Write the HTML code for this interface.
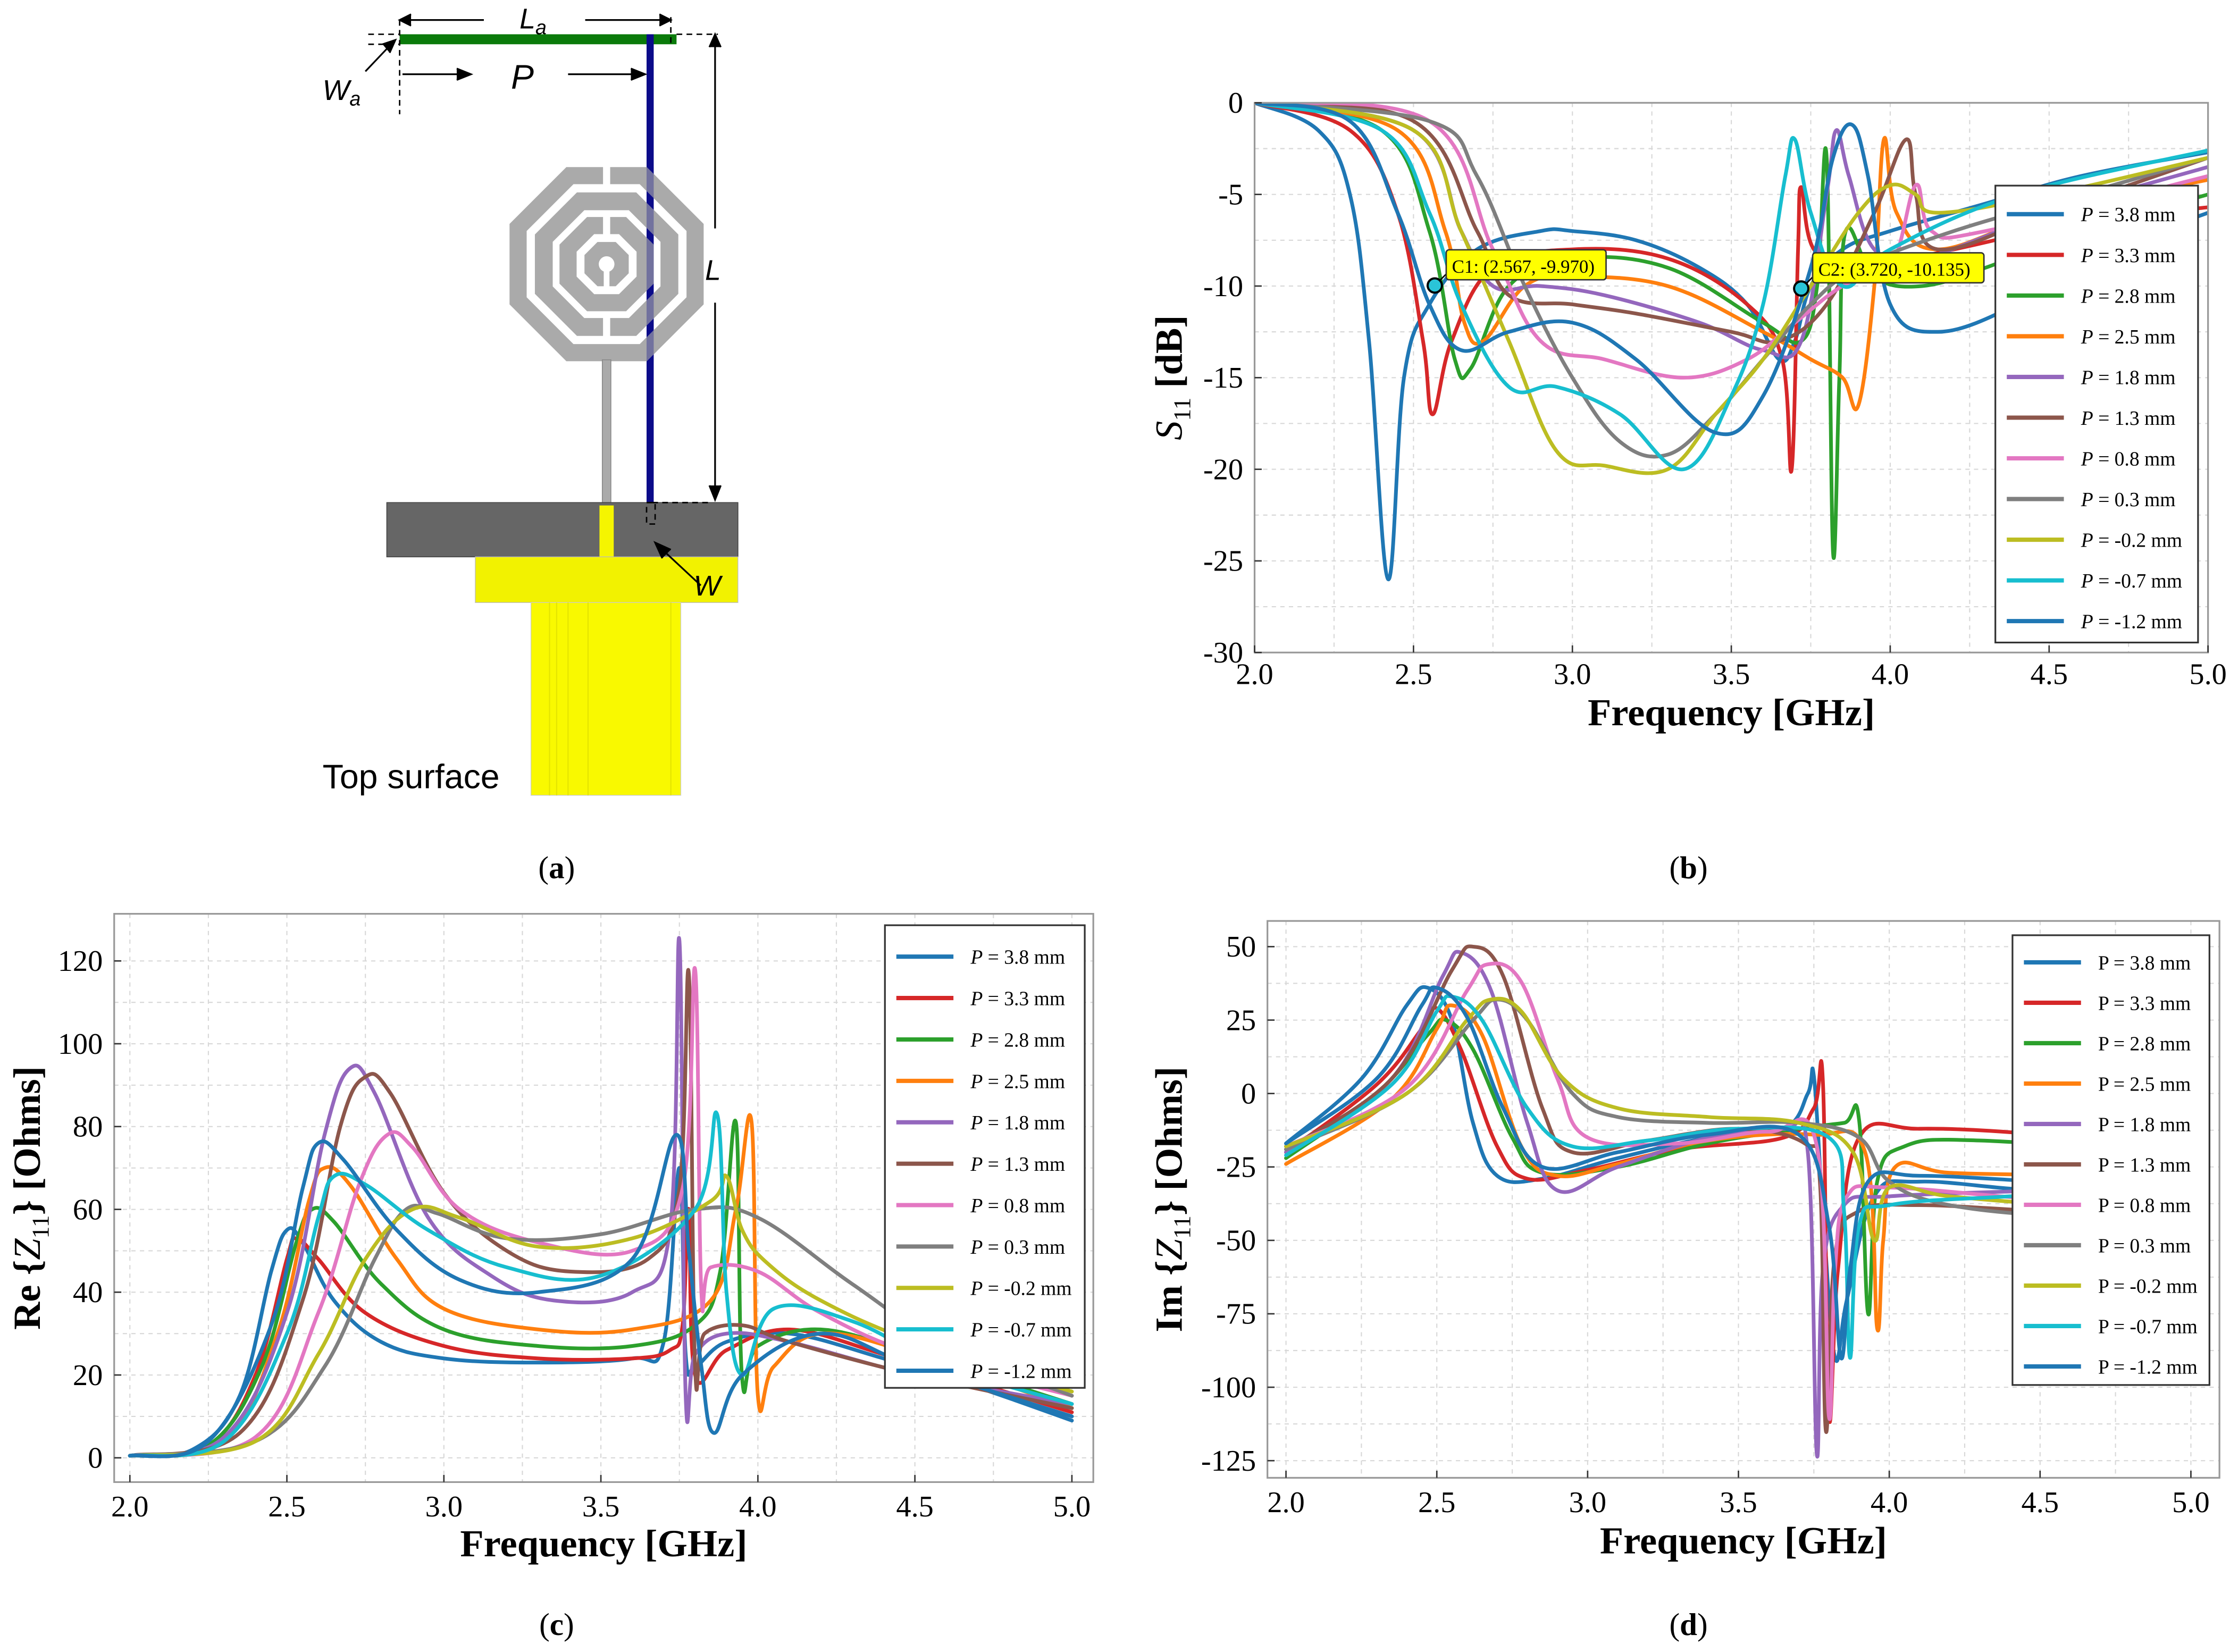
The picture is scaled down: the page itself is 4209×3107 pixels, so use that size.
<!DOCTYPE html>
<html><head><meta charset="utf-8"><style>
html,body{margin:0;padding:0;background:#fff;}
svg{display:block;}
</style></head><body>
<svg id="fig" xmlns="http://www.w3.org/2000/svg" width="4209" height="3107" viewBox="0 0 1568 1157" preserveAspectRatio="none" font-family="Liberation Serif, serif">
<rect x="0" y="0" width="1568" height="1157" fill="#fff"/>
<g id="drawing">
  <rect x="280" y="24" width="194" height="7" fill="#0a7a0a"/>
  <rect x="453" y="24" width="5" height="328" fill="#0b0b8a"/>
  <g fill="none" stroke="#aaaaaa" stroke-linejoin="miter">
    <polygon points="399.3,123 450.7,123 487,159.3 487,210.7 450.7,247 399.3,247 363,210.7 363,159.3" stroke-width="12"/>
    <polygon points="406.8,141 443.2,141 469,166.8 469,203.2 443.2,229 406.8,229 381,203.2 381,166.8" stroke-width="12.5"/>
    <polygon points="413.8,158 436.2,158 452,173.8 452,196.2 436.2,212 413.8,212 398,196.2 398,173.8" stroke-width="12"/>
    <polygon points="418.6,169.5 431.4,169.5 440.5,178.6 440.5,191.4 431.4,200.5 418.6,200.5 409.5,191.4 409.5,178.6" fill="#aaaaaa" stroke="none"/>
  </g>
  <rect x="422.5" y="115" width="5" height="15" fill="#fff"/>
  <rect x="422.5" y="151" width="5" height="14" fill="#fff"/>
  <rect x="422.5" y="222" width="5" height="14" fill="#fff"/>
  <circle cx="425" cy="185" r="5.5" fill="#fff"/>
  <rect x="423" y="185" width="4" height="16" fill="#fff"/>
  <rect x="453" y="117" width="5" height="136" fill="#0b0b8a" opacity="0.35"/>
  <rect x="422" y="252" width="6" height="100" fill="#aaaaaa" stroke="#888" stroke-width="0.6"/>
  <rect x="271" y="352" width="246" height="38" fill="#666" stroke="#444" stroke-width="0.6"/>
  <rect x="420" y="354" width="10" height="36" fill="#f5f500"/>
  <rect x="333" y="390" width="184" height="32" fill="#f2f200" stroke="#bbb" stroke-width="0.5"/>
  <rect x="372" y="422" width="105" height="135" fill="#f9f900" stroke="#ccc" stroke-width="0.5"/>
  <g stroke="#e4e400" stroke-width="0.8"><line x1="385" y1="422" x2="385" y2="557"/><line x1="390" y1="422" x2="390" y2="557"/><line x1="398" y1="422" x2="398" y2="557"/><line x1="412" y1="422" x2="412" y2="557"/><line x1="470" y1="422" x2="470" y2="557"/></g>
  <g stroke="#000" stroke-width="1.2" fill="none">
    <line x1="280" y1="14" x2="339" y2="14"/><line x1="410" y1="14" x2="470" y2="14"/>
    <path d="M288,10 L280,14 L288,18" fill="#000"/><path d="M462,10 L470,14 L462,18" fill="#000"/>
    <line x1="282" y1="52" x2="328" y2="52"/><path d="M320,48 L330,52 L320,56" fill="#000"/>
    <line x1="398" y1="52" x2="450" y2="52"/><path d="M442,48 L452,52 L442,56" fill="#000"/>
    <line x1="501" y1="32" x2="501" y2="160"/><line x1="501" y1="212" x2="501" y2="346"/>
    <path d="M497,33 L501,24 L505,33" fill="#000"/><path d="M497,340 L501,350 L505,340" fill="#000"/>
    <line x1="256" y1="50" x2="275" y2="30"/><path d="M268,31 L277,28 L273,37" fill="#000"/>
    <line x1="491" y1="410" x2="462" y2="383"/><path d="M464,391 L459,380 L470,385" fill="#000"/>
    <g stroke-dasharray="4,3" stroke-width="1">
      <line x1="280" y1="14" x2="280" y2="80"/><line x1="470" y1="12" x2="470" y2="30"/>
      <line x1="258" y1="24" x2="280" y2="24"/><line x1="258" y1="31" x2="280" y2="31"/>
      <line x1="474" y1="24" x2="503" y2="24"/><line x1="457" y1="352" x2="497" y2="352"/>
      <rect x="453" y="352" width="6" height="15"/>
    </g>
  </g>
  <g font-family="Liberation Sans, sans-serif" font-style="italic" fill="#000">
    <text x="364" y="20" font-size="20">L<tspan font-size="14" dy="4">a</tspan></text>
    <text x="358" y="62" font-size="24">P</text>
    <text x="226" y="70" font-size="20">W<tspan font-size="14" dy="4">a</tspan></text>
    <text x="494" y="196" font-size="20">L</text>
    <text x="486" y="417" font-size="20">W</text>
  </g>
  <text x="226" y="552" font-family="Liberation Sans, sans-serif" font-size="24" fill="#000">Top surface</text>
</g>
<g font-size="22" fill="#000">
  <text x="390" y="615" text-anchor="middle">(<tspan font-weight="bold">a</tspan>)</text>
  <text x="1183" y="615" text-anchor="middle">(<tspan font-weight="bold">b</tspan>)</text>
  <text x="390" y="1145" text-anchor="middle">(<tspan font-weight="bold">c</tspan>)</text>
  <text x="1183" y="1145" text-anchor="middle">(<tspan font-weight="bold">d</tspan>)</text>
</g>
<g id="chartB"></g>
<g id="chartC"></g>
<g id="chartD"></g>
</svg>
<script>
var colors = ["#1f77b4","#d62728","#2ca02c","#ff7f0e","#9467bd","#8c564b","#e377c2","#7f7f7f","#bcbd22","#17becf","#1f77b4"];
var pValues = ["3.8","3.3","2.8","2.5","1.8","1.3","0.8","0.3","-0.2","-0.7","-1.2"];
var freqTicks = [2.0,2.5,3.0,3.5,4.0,4.5,5.0];
var s11Ticks = [0,-5,-10,-15,-20,-25,-30];
var reTicks = [0,20,40,60,80,100,120];
var imTicks = [50,25,0,-25,-50,-75,-100,-125];

var s11Freq = [
 [2.0,2.2,2.3,2.36,2.42,2.47,2.55,2.7,2.9,3.0,3.2,3.4,3.55,3.65,3.7,3.75,3.85,4.0,4.3,4.6,5.0],
 [2.0,2.3,2.45,2.53,2.56,2.62,2.75,3.0,3.3,3.55,3.66,3.69,3.71,3.72,3.76,3.9,4.2,4.6,5.0],
 [2.0,2.4,2.55,2.63,2.68,2.8,3.0,3.3,3.6,3.72,3.77,3.8,3.82,3.84,3.86,3.95,4.1,4.3,4.6,5.0],
 [2.0,2.45,2.6,2.66,2.72,2.85,3.0,3.3,3.6,3.75,3.85,3.9,3.95,3.98,4.02,4.15,4.5,5.0],
 [2.0,2.5,2.65,2.75,2.9,3.1,3.4,3.6,3.72,3.8,3.83,3.87,3.95,4.1,4.5,5.0],
 [2.0,2.5,2.7,2.8,3.0,3.2,3.5,3.65,3.8,3.95,4.05,4.08,4.15,4.5,5.0],
 [2.0,2.55,2.75,2.9,3.1,3.35,3.55,3.7,3.85,4.0,4.08,4.13,4.3,5.0],
 [2.0,2.55,2.7,2.85,3.0,3.15,3.3,3.45,3.6,3.75,3.9,4.2,4.6,5.0],
 [2.0,2.5,2.65,2.8,2.95,3.1,3.3,3.45,3.6,3.75,3.9,4.0,4.08,4.15,4.5,5.0],
 [2.0,2.4,2.55,2.65,2.8,2.95,3.15,3.35,3.5,3.6,3.67,3.7,3.75,3.85,4.0,4.4,5.0],
 [2.0,2.3,2.45,2.55,2.65,2.8,3.0,3.2,3.45,3.6,3.75,3.82,3.88,3.93,4.0,4.15,4.4,4.7,5.0]
];
var s11Val = [
 [0,-1.5,-5,-13,-26,-15,-11,-8,-7,-7,-7.5,-9,-11,-14,-13,-10,-8,-7,-5.5,-4,-2.7],
 [0,-1.5,-6,-13,-17,-13,-9,-8,-8.5,-11,-14,-20,-8,-4.6,-8,-9,-8,-6.5,-5.7],
 [0,-1.5,-7,-14,-14.5,-10,-8.5,-9,-12,-13,-10,-3,-24.5,-15,-7,-9.5,-10,-9,-7,-5],
 [0,-1.5,-7,-12,-13,-10,-9.5,-10,-12.5,-14,-15,-16.5,-10,-2,-6,-8,-6,-4.2],
 [0,-1.5,-7,-10,-10,-10.5,-12,-13.5,-13,-5,-1.5,-4,-8,-8.5,-6,-3.5],
 [0,-1,-7,-10.5,-11,-11.5,-12.5,-13,-11,-6,-2,-5,-8,-6,-3],
 [0,-1,-8,-13,-14,-15,-14,-12,-10,-9,-4.5,-7,-7,-4],
 [0,-1,-4,-10,-15,-18.5,-19.2,-17,-14,-11,-9,-7,-5,-3],
 [0,-1.5,-7,-13,-19,-19.8,-20,-17,-14,-10,-6,-4.5,-5,-6,-5,-3],
 [0,-1.5,-6,-11,-15.5,-15.5,-17,-20,-16,-11,-4,-2,-6,-10,-8,-5,-2.6],
 [0,-1,-6,-11,-13.5,-12.5,-12,-14,-18,-16,-9,-3,-1.2,-4,-11,-12.5,-11,-8,-6]
];
var reFreq = [
 [2.0,2.2,2.35,2.45,2.5,2.55,2.65,2.8,3.0,3.3,3.6,3.7,3.75,3.77,3.8,3.9,4.1,4.4,4.7,5.0],
 [2.0,2.25,2.4,2.5,2.53,2.6,2.75,3.0,3.3,3.6,3.72,3.76,3.78,3.8,3.9,4.1,4.4,4.7,5.0],
 [2.0,2.25,2.42,2.53,2.58,2.65,2.8,3.0,3.3,3.6,3.8,3.88,3.93,3.95,4.0,4.2,4.5,5.0],
 [2.0,2.3,2.47,2.57,2.62,2.7,2.85,3.0,3.3,3.6,3.85,3.93,3.98,4.0,4.05,4.2,4.5,5.0],
 [2.0,2.3,2.5,2.62,2.7,2.78,2.95,3.15,3.35,3.6,3.72,3.75,3.77,3.8,3.9,4.1,4.5,5.0],
 [2.0,2.35,2.55,2.67,2.75,2.83,3.0,3.2,3.4,3.65,3.75,3.78,3.8,3.83,3.95,4.1,4.5,5.0],
 [2.0,2.4,2.6,2.73,2.82,2.9,3.05,3.3,3.6,3.76,3.8,3.82,3.85,4.0,4.2,4.5,5.0],
 [2.0,2.4,2.62,2.78,2.88,2.98,3.2,3.5,3.8,4.0,4.3,4.6,5.0],
 [2.0,2.4,2.6,2.75,2.9,3.05,3.3,3.6,3.85,3.9,3.95,4.03,4.2,4.5,5.0],
 [2.0,2.3,2.5,2.6,2.65,2.75,2.95,3.2,3.5,3.8,3.87,3.9,3.95,4.05,4.3,4.6,5.0],
 [2.0,2.25,2.45,2.55,2.6,2.68,2.85,3.05,3.3,3.6,3.74,3.78,3.82,3.86,3.95,4.2,4.5,5.0]
];
var reVal = [
 [0.5,2,15,45,55,52,38,28,24,23,24,28,70,25,22,28,30,24,17,9],
 [0.5,3,20,48,53,48,35,27,24,24,26,32,60,20,26,31,25,18,11],
 [0.5,3,22,52,60,57,42,31,27,27,32,45,81,19,27,31,25,13],
 [0.5,4,30,62,70,66,48,36,31,31,38,60,81,15,22,30,25,12],
 [0.5,5,35,78,94,88,58,44,38,40,55,125,15,25,30,28,20,13],
 [0.5,6,38,80,92,88,64,50,45,48,65,117,22,30,32,28,20,12],
 [0.5,5,35,66,78,75,60,52,50,65,118,40,46,45,35,25,15],
 [0.5,4,22,48,60,59,53,54,60,58,42,27,15],
 [0.5,4,25,48,60,58,51,53,62,68,55,47,38,28,16],
 [0.5,4,30,58,68,66,55,46,44,60,83,40,20,36,33,22,13],
 [0.5,4,32,65,76,72,55,43,40,48,78,50,22,6,20,30,22,10]
];
var imFreq = [
 [2.0,2.25,2.4,2.47,2.55,2.62,2.7,2.85,3.1,3.4,3.65,3.73,3.75,3.78,3.82,3.86,3.95,4.1,4.5,5.0],
 [2.0,2.3,2.45,2.5,2.58,2.7,2.8,3.0,3.3,3.65,3.75,3.78,3.8,3.83,3.9,4.1,4.5,5.0],
 [2.0,2.3,2.47,2.53,2.62,2.75,2.85,3.1,3.4,3.7,3.85,3.9,3.93,3.96,4.05,4.3,5.0],
 [2.0,2.35,2.5,2.55,2.65,2.78,2.9,3.1,3.4,3.75,3.92,3.96,3.98,4.02,4.2,4.6,5.0],
 [2.0,2.35,2.52,2.58,2.68,2.8,2.9,3.1,3.4,3.65,3.73,3.76,3.78,3.85,4.0,4.5,5.0],
 [2.0,2.35,2.55,2.62,2.72,2.85,2.95,3.2,3.5,3.72,3.77,3.79,3.82,3.9,4.1,4.5,5.0],
 [2.0,2.4,2.6,2.67,2.78,2.9,3.0,3.3,3.6,3.76,3.8,3.82,3.86,4.0,4.5,5.0],
 [2.0,2.4,2.62,2.7,2.8,2.95,3.1,3.4,3.7,3.9,4.0,4.2,4.6,5.0],
 [2.0,2.4,2.6,2.68,2.78,2.92,3.1,3.4,3.7,3.88,3.95,4.0,4.2,4.6,5.0],
 [2.0,2.35,2.5,2.55,2.65,2.8,2.95,3.2,3.5,3.8,3.85,3.87,3.9,4.0,4.4,5.0],
 [2.0,2.3,2.45,2.5,2.6,2.72,2.85,3.1,3.4,3.7,3.8,3.84,3.87,3.93,4.1,4.5,5.0]
];
var imVal = [
 [-17,5,30,36,25,-10,-28,-29,-22,-15,-12,0,6,-40,-90,-70,-35,-30,-33,-33],
 [-20,3,22,29,15,-18,-29,-26,-19,-15,-5,4,-110,-60,-15,-12,-14,-20],
 [-22,0,20,25,15,-15,-27,-25,-17,-12,-10,-9,-75,-30,-18,-16,-21],
 [-24,-2,22,30,20,-18,-28,-24,-16,-14,-20,-80,-50,-25,-27,-28,-30],
 [-20,5,40,48,35,-10,-33,-25,-15,-12,-20,-123,-60,-38,-35,-33,-31],
 [-19,5,42,50,40,-5,-20,-16,-12,-17,-30,-115,-55,-40,-38,-40,-42],
 [-18,2,35,44,38,5,-15,-17,-13,-18,-110,-60,-35,-32,-36,-38],
 [-19,0,25,32,25,0,-8,-10,-10,-15,-30,-38,-42,-42],
 [-18,0,25,32,28,5,-5,-8,-10,-20,-50,-32,-35,-38,-38],
 [-21,3,28,33,25,-5,-18,-16,-12,-15,-40,-90,-45,-38,-35,-32],
 [-17,5,30,36,26,-5,-25,-20,-14,-14,-45,-90,-60,-30,-28,-30,-33]
];

var NS = "http://www.w3.org/2000/svg";
function mk(tag, attrs, parent){ var e=document.createElementNS(NS,tag); for(var k in attrs) e.setAttribute(k,attrs[k]); parent.appendChild(e); return e; }

function smoothPath(pts){
  if(pts.length<2) return "";
  var d="M"+pts[0][0].toFixed(2)+","+pts[0][1].toFixed(2);
  for(var i=0;i<pts.length-1;i++){
    var p0=pts[i>0?i-1:i], p1=pts[i], p2=pts[i+1], p3=pts[i+2<pts.length?i+2:i+1];
    var t=0.18;
    var c1x=p1[0]+(p2[0]-p0[0])*t, c1y=p1[1]+(p2[1]-p0[1])*t;
    var c2x=p2[0]-(p3[0]-p1[0])*t, c2y=p2[1]-(p3[1]-p1[1])*t;
    d+=" C"+c1x.toFixed(2)+","+c1y.toFixed(2)+" "+c2x.toFixed(2)+","+c2y.toFixed(2)+" "+p2[0].toFixed(2)+","+p2[1].toFixed(2);
  }
  return d;
}

function drawChart(cfg){
  var g=document.getElementById(cfg.id);
  var xs=function(v){return cfg.x0+(v-2.0)/3.0*(cfg.x1-cfg.x0);};
  var ys=function(v){return cfg.y0+(v-cfg.vTop)/(cfg.vBot-cfg.vTop)*(cfg.y1-cfg.y0);};
  mk("rect",{x:cfg.bx0,y:cfg.by0,width:cfg.bx1-cfg.bx0,height:cfg.by1-cfg.by0,fill:"#fff"},g);
  var grid=mk("g",{stroke:"#d8d8d8","stroke-width":0.8,"stroke-dasharray":"3,3"},g);
  
  
  for(var f=2.0; f<=5.001; f+=0.25){ mk("line",{x1:xs(f),y1:cfg.by0,x2:xs(f),y2:cfg.by1},grid); }
  var step=(cfg.ticks[1]-cfg.ticks[0])/2;
  var lo=Math.min(cfg.ticks[0],cfg.ticks[cfg.ticks.length-1]), hi=Math.max(cfg.ticks[0],cfg.ticks[cfg.ticks.length-1]);
  for(var v=lo; v<=hi+0.001; v+=Math.abs(step)){ mk("line",{x1:cfg.bx0,y1:ys(v),x2:cfg.bx1,y2:ys(v)},grid); }
  var sg=mk("g",{fill:"none","stroke-width":2.6,"stroke-linejoin":"round","stroke-linecap":"round"},g);
  
  
  var clipId=cfg.id+"clip";
  var cp=mk("clipPath",{id:clipId},g); mk("rect",{x:cfg.bx0,y:cfg.by0,width:cfg.bx1-cfg.bx0,height:cfg.by1-cfg.by0},cp);
  sg.setAttribute("clip-path","url(#"+clipId+")");
  for(var s=0;s<cfg.fx.length;s++){
    var pts=[]; for(var i=0;i<cfg.fx[s].length;i++) pts.push([xs(cfg.fx[s][i]),ys(cfg.fy[s][i])]);
    var p=mk("path",{d:smoothPath(pts),stroke:colors[s]},sg);
    
    
  }
  var fr=mk("rect",{x:cfg.bx0,y:cfg.by0,width:cfg.bx1-cfg.bx0,height:cfg.by1-cfg.by0,fill:"none",stroke:"#999","stroke-width":1.2},g);
  
  
  var tg=mk("g",{"font-size":21,fill:"#000"},g);
  
  
  freqTicks.forEach(function(f){
    var t=mk("text",{x:xs(f),y:cfg.by1+cfg.xtOff,"text-anchor":"middle"},tg); t.textContent=f.toFixed(1);
    
    
    mk("line",{x1:xs(f),y1:cfg.by1,x2:xs(f),y2:cfg.by1-5,stroke:"#333"},tg);
  });
  cfg.ticks.forEach(function(v){
    var t=mk("text",{x:cfg.bx0-cfg.ytOff,y:ys(v)+7,"text-anchor":"end"},tg); t.textContent=String(v);
    
    
    mk("line",{x1:cfg.bx0,y1:ys(v),x2:cfg.bx0+5,y2:ys(v),stroke:"#333"},tg);
  });
  var xl=mk("text",{x:(cfg.bx0+cfg.bx1)/2,y:cfg.xlY,"text-anchor":"middle","font-size":27,"font-weight":"bold"},g);
  xl.textContent="Frequency [GHz]";
  
  
  var yl=mk("text",{x:0,y:0,"text-anchor":"middle","font-size":27,"font-weight":"bold",transform:"translate("+cfg.ylX+","+((cfg.by0+cfg.by1)/2)+") rotate(-90)"},g);
  yl.innerHTML=cfg.ylabel;
  
  
  var lg=mk("g",{},g);
  
  
  mk("rect",{x:cfg.lx,y:cfg.ly,width:cfg.lw,height:cfg.lh,fill:"#fff",stroke:"#333","stroke-width":1.2},lg);
  for(var s2=0;s2<pValues.length;s2++){
    var yy=cfg.ly+cfg.l0+s2*cfg.ld;
    var ln=mk("line",{x1:cfg.lx+8,y1:yy,x2:cfg.lx+48,y2:yy,stroke:colors[s2],"stroke-width":3},lg);
    
    
    var lt=mk("text",{x:cfg.lx+60,y:yy+5,"font-size":14},lg);
    lt.innerHTML=(cfg.italicP?'<tspan font-style="italic">P</tspan>':'P')+" = "+pValues[s2]+" mm";
    
    
  }
  return {xs:xs,ys:ys,g:g};
}

var b=drawChart({id:"chartB",x0:879,x1:1547,y0:72,y1:457,vTop:0,vBot:-30,bx0:879,bx1:1547,by0:72,by1:457,ticks:s11Ticks,fx:s11Freq,fy:s11Val,
  xtOff:22,ytOff:8,xlY:508,ylX:828,ylabel:'<tspan font-style="italic" font-weight="normal">S</tspan><tspan font-size="17" dy="6" font-weight="normal">11</tspan><tspan dy="-6"> [dB]</tspan>',
  lx:1398,ly:130,lw:142,lh:320,l0:20,ld:28.5,italicP:true});
var markF=[2.567,3.720], markV=[-9.970,-10.135], markLbl=["C1: (2.567, -9.970)","C2: (3.720, -10.135)"];
for(var m=0;m<2;m++){
  var cx=b.xs(markF[m]), cy=b.ys(markV[m]);
  var mg=mk("g",{},b.g);
  
  
  mk("line",{x1:cx,y1:cy,x2:cx+8,y2:cy-8,stroke:"#000","stroke-width":1},mg);
  var w=m==0?112:120;
  mk("rect",{x:cx+8,y:cy-25,width:w,height:21,fill:"#ffff00",stroke:"#333","stroke-width":1,rx:2},mg);
  var tt=mk("text",{x:cx+12,y:cy-9,"font-size":13},mg); tt.textContent=markLbl[m];
  mk("circle",{cx:cx,cy:cy,r:5,fill:"#2ac4d8",stroke:"#000","stroke-width":1.5},mg);
}
drawChart({id:"chartC",x0:91,x1:751,y0:673,y1:1021,vTop:120,vBot:0,bx0:80,bx1:766,by0:640,by1:1038,ticks:reTicks,fx:reFreq,fy:reVal,
  xtOff:24,ytOff:8,xlY:1090,ylX:28,ylabel:'Re {<tspan font-style="italic" font-weight="normal">Z</tspan><tspan font-size="17" dy="6" font-weight="normal">11</tspan><tspan dy="-6">} [Ohms]</tspan>',
  lx:620,ly:648,lw:140,lh:324,l0:22,ld:29,italicP:true});
drawChart({id:"chartD",x0:901,x1:1535,y0:663,y1:1023,vTop:50,vBot:-125,bx0:888,bx1:1555,by0:645,by1:1035,ticks:imTicks,fx:imFreq,fy:imVal,
  xtOff:24,ytOff:8,xlY:1088,ylX:828,ylabel:'Im {<tspan font-style="italic" font-weight="normal">Z</tspan><tspan font-size="17" dy="6" font-weight="normal">11</tspan><tspan dy="-6">} [Ohms]</tspan>',
  lx:1410,ly:655,lw:138,lh:315,l0:19,ld:28.3,italicP:false});
</script>
</body></html>
